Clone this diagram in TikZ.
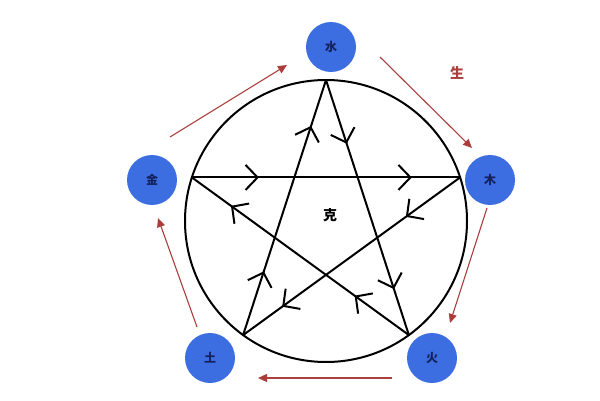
\documentclass[tikz,border=0pt]{standalone}
\usepackage{xcolor}
\usepackage{fontspec}
\usepackage{tikz}
\usetikzlibrary{shapes.geometric}
\usetikzlibrary{arrows.meta}
\usetikzlibrary{decorations.markings}
\newfontfamily\cjk{Noto Sans CJK SC}
\definecolor{xingblue}{HTML}{3C6EE2}
\definecolor{xingtext}{HTML}{14205A}
\definecolor{shengred}{HTML}{A8403E}
\tikzset{
    xing/.style={circle,fill=xingblue,minimum size=50pt,inner sep=0pt,
    text=xingtext,font=\cjk\bfseries\fontsize{12}{12}\selectfont},
    sheng/.style={draw=shengred,line width=1.1pt,
    -{Triangle[length=9pt,width=8pt,fill=shengred!90!red]}},
    ke/.style={line width=2pt,line cap=round,postaction={decorate},
    decoration={markings,
    mark=at position 0.25 with {\arrow{Straight Barb[length=12pt,width=25pt]}},
    mark=at position 0.82 with {\arrow{Straight Barb[length=12pt,width=25pt]}}}}
}

\begin{document}
\begin{tikzpicture}[x=1pt,y=1pt]
    \useasboundingbox[fill=white] (0,0) rectangle (600,400);
    \node[draw=none,minimum size=282pt,inner sep=0pt,outer sep=0pt,
    regular polygon,regular polygon sides=5] (star) at (326,179) {};
    \draw[line width=2pt] (star.center) circle (141pt);

    \foreach \a/\b in {1/4,4/2,2/5,5/3,3/1}
    \draw[ke] (star.corner \a) -- (star.corner \b);

    \node[xing] (shui) at (331,353) {水};
    \node[xing] (mu) at (490,220) {木};
    \node[xing] (huo) at (432,42) {火};
    \node[xing] (tu) at (210,42) {土};
    \node[xing] (jin) at (152,220) {金};

    \draw[sheng] ([shift={(18,43)}]jin.center) -- ([shift={(-44,-18)}]shui.center);
    \draw[sheng] ([shift={(49,-10)}]shui.center) -- ([shift={(-18,32)}]mu.center);
    \draw[sheng] ([shift={(-3,-28)}]mu.center) -- ([shift={(18,35)}]huo.center);
    \draw[sheng] ([shift={(-40,-20)}]huo.center) -- ([shift={(48,-20)}]tu.center);
    \draw[sheng] ([shift={(-13,31)}]tu.center) -- ([shift={(6,-38)}]jin.center);

    \node[text=shengred,font=\cjk\bfseries\fontsize{14}{14}\selectfont] (shenglabel) at (457,327) {生};
    \node[font=\cjk\bfseries\fontsize{14}{14}\selectfont] (kelabel) at (330,185) {克};
\end{tikzpicture}
\end{document}
